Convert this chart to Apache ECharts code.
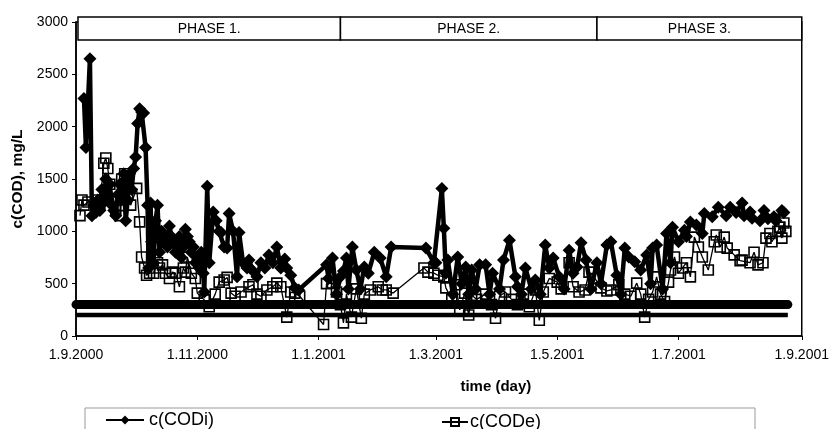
<!DOCTYPE html>
<html>
<head>
<meta charset="utf-8">
<script src="https://cdn.jsdelivr.net/npm/echarts@6/dist/echarts.min.js"></script>
<style>
html,body{margin:0;padding:0;background:#fff;}
#chart{width:832px;height:429px;}
</style>
</head>
<body>
<div id="chart"></div>
<script>
// ---- data (days since 1.9.2000) ----
const startDate = '1.9.2000';
const tickLabels = ['1.9.2000','1.11.2000','1.1.2001','1.3.2001','1.5.2001','1.7.2001','1.9.2001'];
const phaseNames = ['PHASE 1.','PHASE 2.','PHASE 3.'];
const phaseBounds = ['2.9.2000','12.1.2001','21.5.2001','1.9.2001'];

const codiDay = [4,5,7,8,9,10,11,12,13,14,15,16,17,18,19,20,21,22,23,24,25,26,27,28,29,30,31,32,33,34,35,36,36.5,37.5,38,39,40,41,42,43,44,45,46,47,48,49,50,51,52,53,54,55,56,57,58,59,60,61,62,63,64,64.5,66,67,69,70.5,72,73,74.5,76,77,79,81,82,84,86,87,89,91,93,95,97,99,101,103,105,106,108,110,112,126,127,129,131,133,134.5,136,137,139,141,143,145,147,150,153,156,158.5,176,180,181,184,185,186,187,189.5,192,194,196,197.5,199,201,203,206,208,209.5,213,215,218,221,222,224,226,229,231,233.5,236,238,240,243,245.5,248,250,252,254,256.5,259,262,264,267,269,272,274,276,278,281,284,287,289,290,292,295,297,299,300,303,306,307,309,312,315,316,320,323,327,329,332,335,336,339,340,344,346,348,351,352,355,356,357];
const codiVal = [2270,1800,2650,1150,1250,1180,1300,1200,1400,1280,1500,1350,1450,1250,1200,1150,1350,1450,1300,1550,1100,1300,1550,1400,1600,1710,2030,2170,2140,2130,1800,1250,650,1270,900,700,1100,1250,800,1000,900,950,850,1050,950,900,800,850,950,750,850,1020,950,900,800,850,700,750,650,800,600,420,1430,700,1185,1100,1000,990,850,840,1170,1000,565,990,700,650,725,620,565,700,650,775,700,850,650,735,650,580,460,440,680,550,745,400,565,620,745,450,850,630,450,660,600,800,745,565,850,840,700,700,1410,1030,600,725,400,755,500,660,400,630,450,680,680,400,600,450,725,915,565,470,400,650,450,535,400,870,650,745,565,450,820,600,660,890,725,450,700,500,870,900,580,400,840,755,710,630,775,500,840,870,450,980,700,1040,900,1010,950,1090,1060,980,1170,1140,1230,1150,1230,1180,1270,1150,1185,1125,1100,1200,1120,1140,1100,1200,1180];

const codeDay = [2,3,4,6,10,12,14,15,16,17,19,20,22,23,24.5,26,27.5,30.5,32,33,34.5,35.5,37,39,41,42,43.5,45,47,48.5,50,52,54,55,56,58,60,61,64.5,67,70,72,74.5,76,78,80,83,87,89,91,93,96,99,101,103,106,108,110,112.5,124.5,126,129,131,133,134.5,136,138.5,141,143.5,145,148,152,154,156,159.5,175,177,180,182,185,186,189,191,193,195.5,197.5,199,201.5,206,209,211,213,216,219,222,225,228,231,233,235,238,242,244,248,250,253,256,258,261,264,267,269,273,276,279,282,284,286,288,290,292,294,296,298,299,301,303,305,307,309,311,313,315,318,321,322,324,326,327.5,331,334,335,339,341,343,345.5,347,349,350,353,354,355,356,357];
const codeVal = [1150,1300,1250,1280,1300,1250,1650,1700,1600,1450,1300,1200,1150,1500,1550,1350,1250,1410,1090,755,650,580,600,600,700,650,680,600,550,610,600,470,650,610,755,600,550,410,345,280,400,515,535,560,410,380,420,470,490,400,380,440,470,505,470,180,420,410,380,110,500,505,420,300,125,400,180,450,170,400,440,470,440,440,410,650,610,600,580,565,460,350,490,250,410,200,390,350,400,300,170,380,420,350,300,400,280,440,150,420,550,515,450,700,470,420,440,610,550,460,430,440,490,400,380,505,400,180,350,420,565,400,330,515,630,755,600,650,700,565,945,850,755,630,900,965,850,945,840,775,720,725,700,800,680,700,935,980,900,1000,1040,935,1080,1000];

const limitDay = [0,358];
const limitHigh = [300,300];
const limitLow = [200,200];

// ---- helpers ----
function parseDMY(s){const p=s.split('.').map(Number);return Date.UTC(p[2],p[1]-1,p[0]);}
const DAY = 86400000;
const base = parseDMY(startDate);
const toDay = s => Math.round((parseDMY(s)-base)/DAY);
const pair = (days, vals) => days.map((d,i)=>[d, vals[i]]);
const tickDays = tickLabels.map(toDay);

const font = 'Liberation Sans, Arial, sans-serif';
const chart = echarts.init(document.getElementById('chart'), null, {renderer:'canvas'});

const option = {
  animation:false,
  backgroundColor:'#fff',
  grid:{left:76,right:26,top:22,bottom:93,show:true,borderColor:'#000',borderWidth:1.5,backgroundColor:'transparent'},
  legend:[
    {data:['c(CODi)'],left:100,top:406,itemWidth:38,itemHeight:11,inactiveColor:'#000',
      textStyle:{fontFamily:font,fontSize:18,color:'#000',padding:[0,0,0,0]}},
    {data:['c(CODe)'],left:436,top:408,itemWidth:26,itemHeight:10,inactiveColor:'#000',
      textStyle:{fontFamily:font,fontSize:18,color:'#000',padding:[0,0,0,-3]}}
  ],
  xAxis:{
    type:'value', min:tickDays[0], max:tickDays[tickDays.length-1],
    name:'time (day)', nameLocation:'middle', nameGap:43,
    nameTextStyle:{fontFamily:font,fontSize:15,fontWeight:'bold',color:'#000',padding:[0,0,0,114]},
    axisLine:{lineStyle:{color:'#000',width:1.5}},
    axisTick:{show:true,length:4,lineStyle:{color:'#000'},customValues:tickDays},
    axisLabel:{customValues:tickDays,fontFamily:font,fontSize:14,color:'#000',margin:12,
      formatter:function(v){const i=tickDays.indexOf(Math.round(v));return i>=0?tickLabels[i]:'';}},
    splitLine:{show:false}
  },
  yAxis:{
    type:'value', min:0, max:3000, interval:500,
    name:'c(COD), mg/L', nameLocation:'middle', nameGap:47, nameRotate:90,
    nameTextStyle:{fontFamily:font,fontSize:15.5,fontWeight:'bold',color:'#000'},
    axisLine:{show:true,lineStyle:{color:'#000',width:1.5}},
    axisTick:{show:true,length:4,lineStyle:{color:'#000'}},
    axisLabel:{fontFamily:font,fontSize:14,color:'#000',margin:8,formatter:v=>String(v)},
    splitLine:{show:false}
  },
  series:[
    {name:'c(CODe)',type:'line',data:pair(codeDay,codeVal),z:2,
      symbol:'rect',symbolSize:10,showAllSymbol:true,
      itemStyle:{color:'rgba(255,255,255,0)',borderColor:'#000',borderWidth:1.6},
      lineStyle:{color:'#000',width:1.3}},
    {name:'c(CODi)',type:'line',data:pair(codiDay,codiVal),z:3,
      symbol:'diamond',symbolSize:13,showAllSymbol:true,
      itemStyle:{color:'#000'},
      lineStyle:{color:'#000',width:4.5}},
    {name:'limit300',type:'line',data:pair(limitDay,limitHigh),z:4,symbol:'none',
      lineStyle:{color:'#000',width:9,cap:'round'}},
    {name:'limit200',type:'line',data:pair(limitDay,limitLow),z:4,symbol:'none',
      lineStyle:{color:'#000',width:4.5}}
  ]
};
chart.setOption(option);

// phase boxes and legend frame
function drawGraphics(){
  const els=[];
  const yTop=17, h=23;
  for(let i=0;i<phaseNames.length;i++){
    const x0=chart.convertToPixel({xAxisIndex:0},toDay(phaseBounds[i]));
    const x1=chart.convertToPixel({xAxisIndex:0},toDay(phaseBounds[i+1]));
    els.push({type:'rect',shape:{x:x0,y:yTop,width:x1-x0,height:h},z:100,
      style:{fill:'#fff',stroke:'#000',lineWidth:1.5}});
    els.push({type:'text',x:(x0+x1)/2,y:yTop+h/2+1,z:101,
      style:{text:phaseNames[i],fill:'#000',font:'14px '+font,align:'center',verticalAlign:'middle'}});
  }
  els.push({type:'rect',shape:{x:85,y:408,width:670,height:40},z:0,
    style:{fill:'none',stroke:'#999',lineWidth:1}});
  chart.setOption({graphic:els});
}
drawGraphics();
</script>
</body>
</html>
